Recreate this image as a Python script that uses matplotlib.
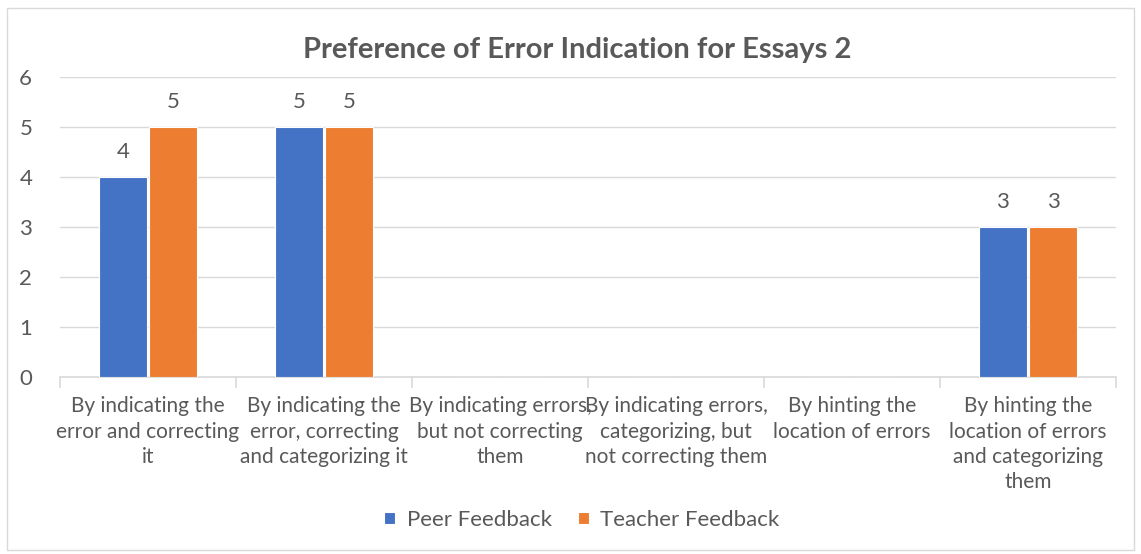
import matplotlib.pyplot as plt
import numpy as np
from matplotlib.patches import Rectangle

plt.rcParams['font.family'] = ['Lato', 'DejaVu Sans']

categories = [
    "By indicating the\nerror and correcting\nit",
    "By indicating the\nerror, correcting\nand categorizing it",
    "By indicating errors,\nbut not correcting\nthem",
    "By indicating errors,\ncategorizing, but\nnot correcting them",
    "By hinting the\nlocation of errors",
    "By hinting the\nlocation of errors\nand categorizing\nthem",
]
peer = [4, 5, 0, 0, 0, 3]
teacher = [5, 5, 0, 0, 0, 3]
series_names = ["Peer Feedback", "Teacher Feedback"]
colors = ["#4472C4", "#ED7D31"]
text_col = "#595959"
grid_col = "#D9D9D9"

fig = plt.figure(figsize=(11.41, 5.54), dpi=100)
fig.patches.append(Rectangle((7 / 1141, 4 / 554), 1127 / 1141, 542 / 554,
                             transform=fig.transFigure, fill=False,
                             edgecolor=grid_col, linewidth=1))

ax = fig.add_axes([60 / 1141, 1 - 377 / 554, 1056 / 1141, 300 / 554])
x = np.arange(len(categories))
w = 0.275
for i, (vals, name, c) in enumerate(zip([peer, teacher], series_names, colors)):
    pos = x + (i - 0.5) * (w + 0.012)
    bars = ax.bar(pos, vals, w, color=c, label=name, edgecolor='white', linewidth=0.8, zorder=3)
    for b, v in zip(bars, vals):
        if v > 0:
            ax.text(b.get_x() + b.get_width() / 2, v + 0.5, str(v), ha='center',
                    va='center', fontsize=16, color=text_col)

ax.set_xlim(-0.5, len(categories) - 0.5)
ax.set_ylim(0, 6)
ax.set_yticks(range(0, 7))
ax.yaxis.grid(True, color=grid_col, linewidth=1, zorder=0)
ax.set_axisbelow(True)
for s in ['top', 'right', 'left']:
    ax.spines[s].set_visible(False)
ax.spines['bottom'].set_color(grid_col)
ax.spines['bottom'].set_linewidth(1.2)
ax.tick_params(axis='y', length=0, labelsize=16, labelcolor=text_col, pad=20)

ax.set_xticks(np.arange(-0.5, len(categories)), minor=False)
ax.set_xticklabels([])
ax.tick_params(axis='x', which='major', length=8, color=grid_col, width=1.2)
ax.set_xticks(x, minor=True)
ax.set_xticklabels(categories, minor=True, fontsize=15, color=text_col, linespacing=1.33)
ax.tick_params(axis='x', which='minor', length=0, pad=14)

ax.set_title("Preference of Error Indication for Essays 2", fontsize=21,
             fontweight='bold', color=text_col, pad=14, x=0.49)

fig.legend(loc='center', bbox_to_anchor=(582 / 1141, 1 - 520 / 554), ncol=2,
           frameon=False, fontsize=16, handlelength=0.5, handleheight=0.5,
           handletextpad=0.5, columnspacing=1.2, labelcolor=text_col)

fig.savefig("out.png", dpi=100)
